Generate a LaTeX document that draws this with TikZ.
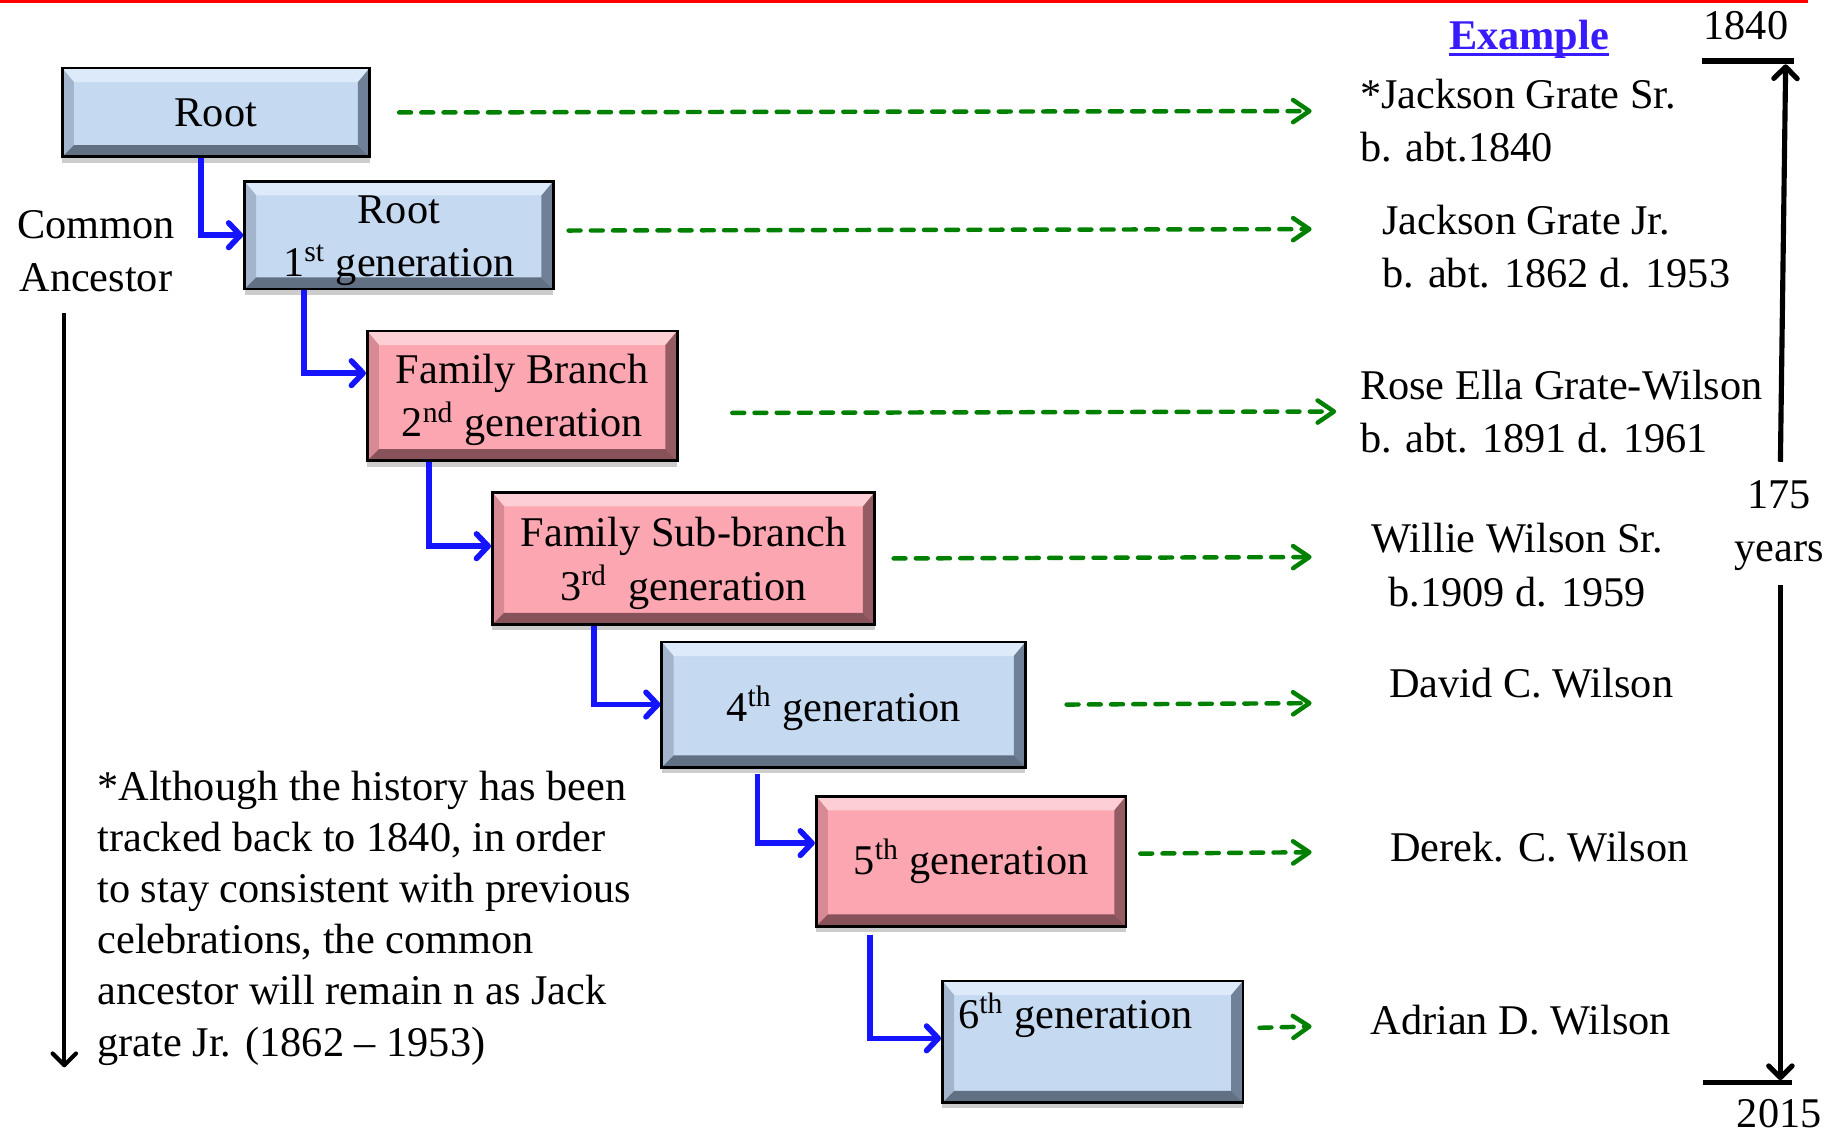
\documentclass[tikz,border=0pt]{standalone}
\usepackage{fontspec}
\setmainfont{Liberation Serif}
\usetikzlibrary{arrows.meta,shadows}
\definecolor{bfill}{RGB}{197,217,241}
\definecolor{bT}{RGB}{221,234,250}
\definecolor{bL}{RGB}{163,181,205}
\definecolor{bR}{RGB}{112,128,150}
\definecolor{bB}{RGB}{98,112,132}
\definecolor{pfill}{RGB}{252,166,177}
\definecolor{pT}{RGB}{253,206,212}
\definecolor{pL}{RGB}{216,138,148}
\definecolor{pR}{RGB}{150,92,100}
\definecolor{pB}{RGB}{136,82,90}
\definecolor{conblue}{RGB}{20,20,255}
\definecolor{dgreen}{RGB}{0,128,0}
\definecolor{exblue}{RGB}{56,28,255}
\newcommand\fs{\fontsize{18.1pt}{22.8pt}\selectfont}
\newcommand\notefs{\fontsize{18.1pt}{21.9pt}\selectfont}
\newcommand\topstrut[1]{\rule{0pt}{#1}}
\newcommand\bevelfaces[4]{%
  \path (path picture bounding box.north west) coordinate (qNW)
        (path picture bounding box.north east) coordinate (qNE)
        (path picture bounding box.south west) coordinate (qSW)
        (path picture bounding box.south east) coordinate (qSE);
  \fill[#1] (qNW) -- (qNE) -- ([shift={(-5pt,-6pt)}]qNE) -- ([shift={(5pt,-6pt)}]qNW) -- cycle;
  \fill[#2] (qNW) -- ([shift={(5pt,-6pt)}]qNW) -- ([shift={(5pt,5pt)}]qSW) -- (qSW) -- cycle;
  \fill[#3] (qNE) -- (qSE) -- ([shift={(-5pt,5pt)}]qSE) -- ([shift={(-5pt,-6pt)}]qNE) -- cycle;
  \fill[#4] (qSW) -- ([shift={(5pt,5pt)}]qSW) -- ([shift={(-5pt,5pt)}]qSE) -- (qSE) -- cycle;
}
\tikzset{
  gbox/.style={draw=black, line width=1.2pt, inner sep=0pt, align=center, font=\fs,
    anchor=north west, drop shadow={shadow xshift=0pt, shadow yshift=-2.5pt, opacity=0.2, fill=black}},
  bluebox/.style={gbox, fill=bfill, path picture={\bevelfaces{bT}{bL}{bR}{bB}}},
  pinkbox/.style={gbox, fill=pfill, path picture={\bevelfaces{pT}{pL}{pR}{pB}}},
  conn/.style={draw=conblue, line width=2.4pt, -{Straight Barb[round,length=5pt,width=10.5pt]}},
  gdash/.style={draw=dgreen, line width=1.9pt, line cap=round, dash pattern=on 5.1pt off 4.4pt,
    -{Straight Barb[round,length=7pt,width=9.5pt]}},
  timeline/.style={draw=black, line width=2.2pt, -{Straight Barb[round,length=5pt,width=10pt]}},
  bar/.style={draw=black, line width=2.5pt},
  txt/.style={font=\fs, inner sep=0pt},
}
\begin{document}
\begin{tikzpicture}[x=0.5pt,y=-0.5pt]
\useasboundingbox (0,0) rectangle (1568,970);
% top red rule
\coordinate (redl) at (0,1);
\coordinate (redr) at (1547,1);
\draw[red, line width=1.3pt] (redl) -- (redr);

% generation boxes
\node[bluebox, minimum width=131.5pt, minimum height=38pt] (root) at (52,57) {Root};
\node[bluebox, minimum width=132pt, minimum height=46pt] (r1) at (208,154) {\topstrut{16.4pt}Root\\1\textsuperscript{st} generation};
\node[pinkbox, minimum width=132.5pt, minimum height=55.5pt] (fb) at (313,282) {\topstrut{16pt}Family Branch\\2\textsuperscript{nd} generation};
\node[pinkbox, minimum width=163.5pt, minimum height=56.5pt] (fsb) at (420,420) {\topstrut{16.8pt}Family Sub-branch\\3\textsuperscript{rd}\ \ generation};
\node[bluebox, minimum width=155.5pt, minimum height=53.5pt] (g4) at (565,548) {\topstrut{18.5pt}4\textsuperscript{th} generation};
\node[pinkbox, minimum width=132.5pt, minimum height=55.5pt] (g5) at (697,680) {5\textsuperscript{th} generation};
\node[bluebox, minimum width=128.5pt, minimum height=52pt] (g6) at (805,838) {};
\node[txt, anchor=base] (g6t) at (920,879.5) {6\textsuperscript{th} generation};

% blue elbow connectors
\draw[conn] ([xshift=60pt]root.south west) |- (r1.west);
\draw[conn] ([xshift=26pt]r1.south west) |- ([yshift=9.75pt]fb.west);
\draw[conn] ([xshift=27pt]fb.south west) |- ([yshift=5.25pt]fsb.west);
\draw[conn] ([xshift=44pt]fsb.south west) |- (g4.west);
\draw[conn] ([xshift=41.5pt,yshift=-2.5pt]g4.south west) |- ([yshift=7.75pt]g5.west);
\draw[conn] ([xshift=23.5pt,yshift=-3pt]g5.south west) |- ([yshift=1.5pt]g6.west);

% right-hand example texts
\node[txt, font=\fs\bfseries, text=exblue, anchor=base] (ex) at (1308,42) {Example};
\draw[exblue, line width=1.3pt] ([yshift=-2.5pt]ex.base west) -- ([yshift=-2.5pt]ex.base east);
\node[txt, anchor=base west, align=left] (p1) at (1163,138.3) {*Jackson Grate Sr.\\b. abt.1840};
\node[txt, anchor=base west, align=left] (p2) at (1182,245.8) {Jackson Grate Jr.\\b. abt. 1862 d. 1953};
\node[txt, anchor=base west, align=left] (p3) at (1163,387.3) {Rose Ella Grate-Wilson\\b. abt. 1891 d. 1961};
\node[txt, anchor=base, align=center] (p4) at (1298,518.4) {Willie Wilson Sr.\\b.1909 d. 1959};
\node[txt, anchor=base west] (p5) at (1188,597) {David C. Wilson};
\node[txt, anchor=base west] (p6) at (1189,737) {Derek. C. Wilson};
\node[txt, anchor=base west] (p7) at (1172,884.5) {Adrian D. Wilson};

% green dashed arrows
\coordinate (e1) at (1122,95);
\coordinate (e2) at (1122,196);
\coordinate (e3) at (1143,352);
\coordinate (e4) at (1122,476.5);
\coordinate (e5) at (1122,601.5);
\coordinate (e6) at (1122,729);
\coordinate (e7) at (1122,878);
\draw[gdash] ([xshift=12pt]root.east) -- (e1);
\draw[gdash] ([xshift=6pt,yshift=2pt]r1.east) -- (e2);
\draw[gdash] ([xshift=23pt,yshift=-7.25pt]fb.east) -- (e3);
\draw[gdash] ([xshift=7.5pt]fsb.east) -- (e4);
\draw[gdash] ([xshift=17pt]g4.east) -- (e5);
\draw[gdash] ([xshift=5.5pt,yshift=3.25pt]g5.east) -- (e6);
\draw[gdash] ([xshift=6.5pt,yshift=6pt]g6.east) -- (e7);

% time line on the right
\node[txt, anchor=base] (y1) at (1493.5,33.6) {1840};
\coordinate (bar1l) at (1456,52.5);
\coordinate (bar1r) at (1535,52.5);
\draw[bar] (bar1l) -- (bar1r);
\coordinate (t1s) at (1523,395);
\coordinate (t1e) at (1527.5,55);
\draw[timeline] (t1s) -- (t1e);
\node[txt, anchor=base, align=center] (yrs) at (1522,480.6) {175\\years};
\coordinate (t2s) at (1523,500);
\coordinate (t2e) at (1523,924);
\draw[timeline] (t2s) -- (t2e);
\coordinate (bar2l) at (1457,926);
\coordinate (bar2r) at (1533,926);
\draw[bar] (bar2l) -- (bar2r);
\node[txt, anchor=base] (y2) at (1522,964.5) {2015};

% left: common ancestor
\node[txt, anchor=base, align=center] (ca) at (82,249.5) {Common\\Ancestor};
\coordinate (la1) at (55,268);
\coordinate (la2) at (55,913);
\draw[timeline, line width=1.8pt] (la1) -- (la2);

% note
\node[txt, font=\notefs, anchor=base west, align=left] (note) at (83,903.4) {*Although the history has been\\tracked back to 1840, in order\\to stay consistent with previous\\celebrations, the common\\ancestor will remain n as Jack\\grate Jr. (1862 – 1953)};
\end{tikzpicture}
\end{document}
